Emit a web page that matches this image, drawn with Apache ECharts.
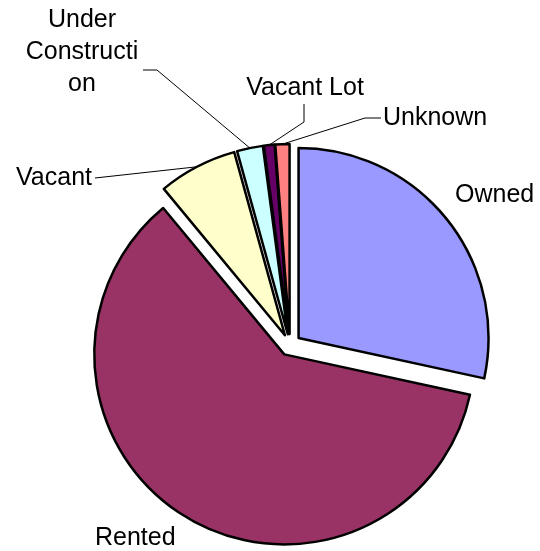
<!DOCTYPE html>
<html>
<head>
<meta charset="utf-8">
<script src="https://cdn.jsdelivr.net/npm/echarts@6/dist/echarts.min.js"></script>
<style>
  html, body { margin: 0; padding: 0; background: #fff; }
  #chart { width: 540px; height: 551px; }
</style>
</head>
<body>
<div id="chart"></div>
<script>
// land use shares (%)
const categories = ['Owned', 'Rented', 'Vacant', 'Under Construction', 'Vacant Lot', 'Unknown']
const shares = [28.4, 60.6, 6.7, 2.2, 0.9, 1.2]
const labelTexts = ['Owned', 'Rented', 'Vacant', 'Under\nConstructi\non', 'Vacant Lot', 'Unknown']
const colors = ['#9999FF', '#993366', '#FFFFCC', '#CCFFFF', '#660066', '#FF8080']

const OFFSET = 11

// label anchor (ax = left / right / centre per align, ay = vertical middle)
// and the leader line's elbow and end next to the text
const labelSpots = [
  { ax: 455, ay: 195, align: 'left' },
  { ax: 95, ay: 538, align: 'left' },
  { ax: 92, ay: 178, align: 'right', elbow: [95, 178], end: [95, 178] },
  { ax: 82, ay: 52, align: 'center', elbow: [157, 70], end: [143, 70] },
  { ax: 305, ay: 88, align: 'center', elbow: [304, 122], end: [304, 104] },
  { ax: 383, ay: 118, align: 'left', elbow: [365, 118], end: [381, 118] }
]

// mid angle of each slice, clockwise from 12 o'clock
const total = shares.reduce((a, b) => a + b, 0)
const midAngles = []
let acc = 0
shares.forEach(v => {
  midAngles.push((acc + v / 2) / total * Math.PI * 2)
  acc += v
})

const chart = echarts.init(document.getElementById('chart'))

const pieData = categories.map((name, i) => ({
  name: name,
  value: shares[i],
  selected: true,
  itemStyle: { color: colors[i] },
  labelLine: { show: !!labelSpots[i].elbow }
}))

chart.setOption({
  animation: false,
  series: [
    {
      type: 'pie',
      center: [290, 345],
      radius: 190,
      startAngle: 90,
      clockwise: true,
      selectedMode: 'multiple',
      selectedOffset: OFFSET,
      avoidLabelOverlap: false,
      data: pieData,
      itemStyle: {
        borderColor: '#000',
        borderWidth: 2.5
      },
      label: {
        show: true,
        position: 'outside',
        formatter: p => labelTexts[p.dataIndex],
        fontFamily: 'Liberation Sans, Arial, sans-serif',
        fontSize: 25,
        lineHeight: 32,
        color: '#000'
      },
      labelLine: {
        show: true,
        length: 20,
        length2: 20,
        smooth: false,
        lineStyle: { color: '#000', width: 1 }
      },
      labelLayout: function (params) {
        const i = params.dataIndex
        const spot = labelSpots[i]
        const r = params.labelRect
        // labels and guide lines get moved along with the exploded slice
        const ox = Math.sin(midAngles[i]) * OFFSET
        const oy = -Math.cos(midAngles[i]) * OFFSET
        // where the text is anchored now, given its current alignment
        let anchor = r.x
        if (params.align === 'right') anchor = r.x + r.width
        else if (params.align === 'center') anchor = r.x + r.width / 2
        const top = spot.ay - r.height / 2
        const out = {
          dx: spot.ax - anchor - ox,
          dy: top - r.y - oy,
          align: spot.align
        }
        if (spot.elbow && params.labelLinePoints) {
          out.labelLinePoints = [
            params.labelLinePoints[0],
            [spot.elbow[0] - ox, spot.elbow[1] - oy],
            [spot.end[0] - ox, spot.end[1] - oy]
          ]
        }
        return out
      }
    }
  ]
})
</script>
</body>
</html>
